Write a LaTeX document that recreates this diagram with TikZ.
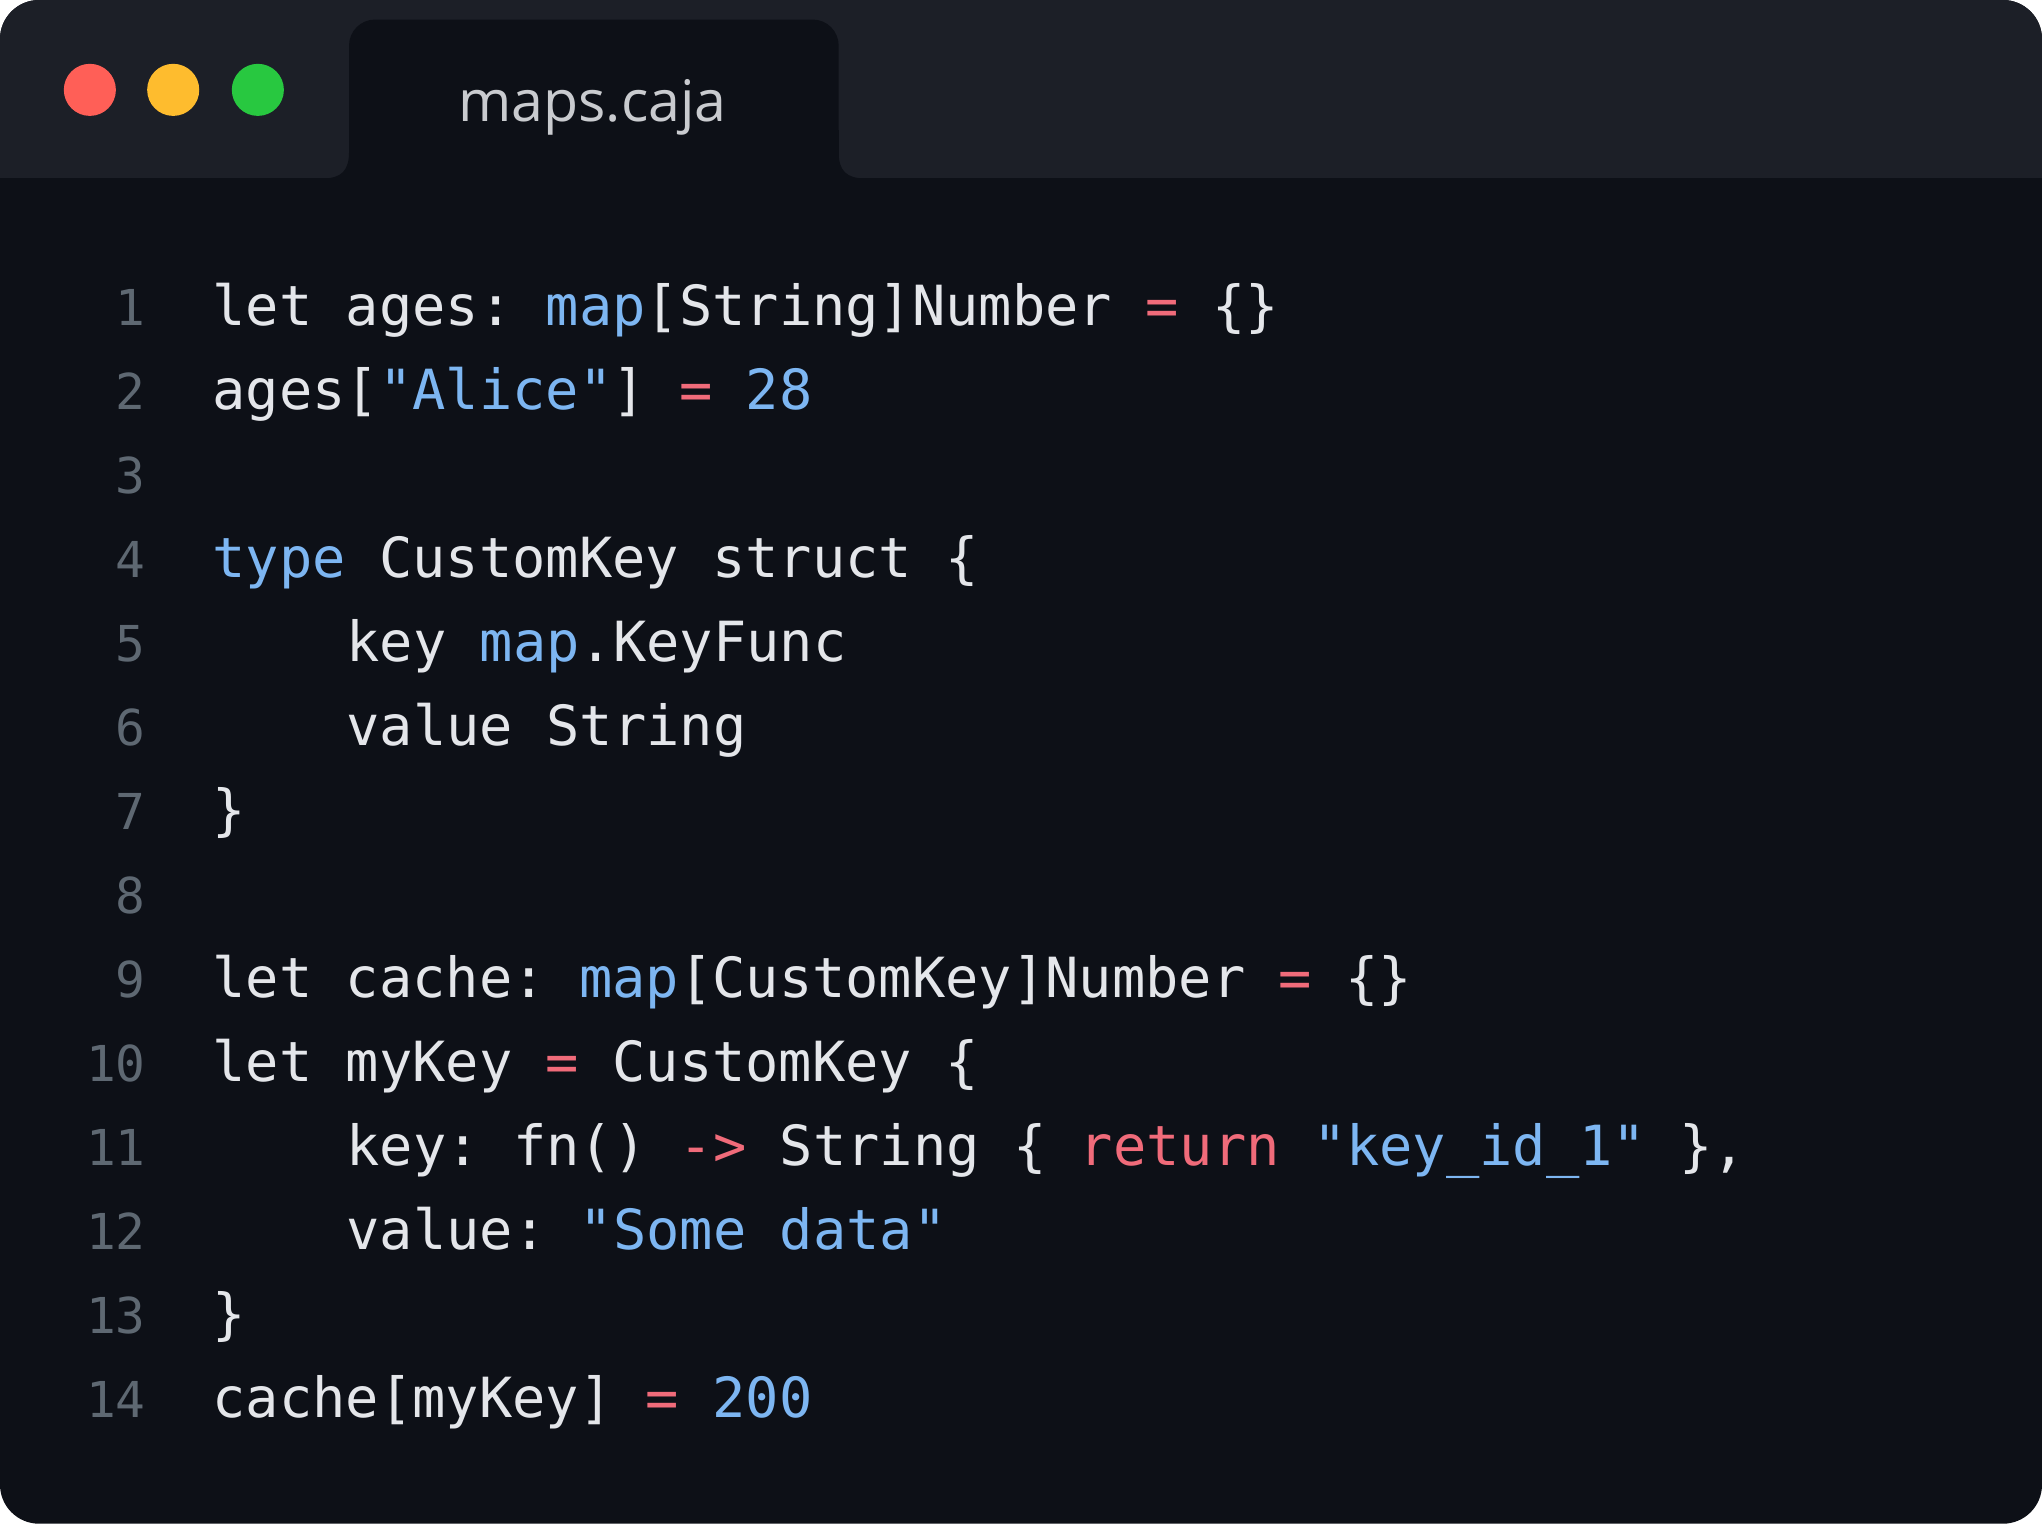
\documentclass[tikz,border=0pt]{standalone}
\usepackage{fontspec}
\setmonofont{DejaVu Sans Mono}
\setsansfont{Open Sans}
\definecolor{bg}{HTML}{0D1017}
\definecolor{bar}{HTML}{1C1F27}
\definecolor{tx}{HTML}{E4E6EA}
\definecolor{bl}{HTML}{7DB6F2}
\definecolor{pk}{HTML}{F06B7A}
\definecolor{ln}{HTML}{5E6872}
\definecolor{ttl}{HTML}{C9CBCF}
\definecolor{cr}{HTML}{FF5F57}
\definecolor{cy}{HTML}{FEBC2E}
\definecolor{cg}{HTML}{28C840}
\newcommand{\BL}[1]{\textcolor{bl}{#1}}
\newcommand{\PK}[1]{\textcolor{pk}{#1}}
\begin{document}
\begin{tikzpicture}[x=1pt,y=-1pt,
  code/.style={anchor=base west,inner sep=0,text=tx,font=\ttfamily\fontsize{42.5}{50}\selectfont},
  num/.style={anchor=base east,inner sep=0,text=ln,font=\ttfamily\fontsize{38}{46}\selectfont},
  dot/.style={circle,minimum size=40pt,inner sep=0}]
\useasboundingbox (0,0) rectangle (1568,1170);
\fill[white] (0,0) rectangle (1568,1170);
\fill[bg,rounded corners=30] (0,0) rectangle (1568,1170);
\begin{scope}
\clip[rounded corners=30] (0,0) rectangle (1568,1170);
\fill[bar] (0,0) rectangle (1568,137);
\end{scope}
\fill[bg,rounded corners=20] (268,137) -- (268,15) -- (644,15) -- (644,137);
\fill[bg] (248,137) .. controls (262,137) and (268,131) .. (268,117) -- (268,137) -- cycle;
\fill[bg] (664,137) .. controls (650,137) and (644,131) .. (644,117) -- (644,137) -- cycle;
\fill[bg] (268,100) rectangle (644,138);
\node[dot,fill=cr] (r) at (69,69) {};
\node[dot,fill=cy] (y) at (133,69) {};
\node[dot,fill=cg] (g) at (198,69) {};
\node[text=ttl,font=\sffamily\fontsize{44}{50}\selectfont,anchor=base] (title) at (455,93) {maps.caja};
\foreach \i in {1,...,14}{\node[num] (n\i) at (112,{250+64.5*(\i-1)}) {\i};}
\node[code] (c1) at (163,250) {let ages: \BL{map}[String]Number \PK{=} \{\}};
\node[code] (c2) at (163,314.5) {ages[\BL{"Alice"}] \PK{=} \BL{28}};
\node[code] (c4) at (163,443.5) {\BL{type} CustomKey struct \{};
\node[code] (c5) at (266,508) {key \BL{map}.KeyFunc};
\node[code] (c6) at (266,572.5) {value String};
\node[code] (c7) at (163,637) {\}};
\node[code] (c9) at (163,766) {let cache: \BL{map}[CustomKey]Number \PK{=} \{\}};
\node[code] (c10) at (163,830.5) {let myKey \PK{=} CustomKey \{};
\node[code] (c11) at (266,895) {key: fn() \PK{->} String \{ \PK{return} \BL{"key\_id\_1"} \},};
\node[code] (c12) at (266,959.5) {value: \BL{"Some data"}};
\node[code] (c13) at (163,1024) {\}};
\node[code] (c14) at (163,1088.5) {cache[myKey] \PK{=} \BL{200}};
\end{tikzpicture}
\end{document}
